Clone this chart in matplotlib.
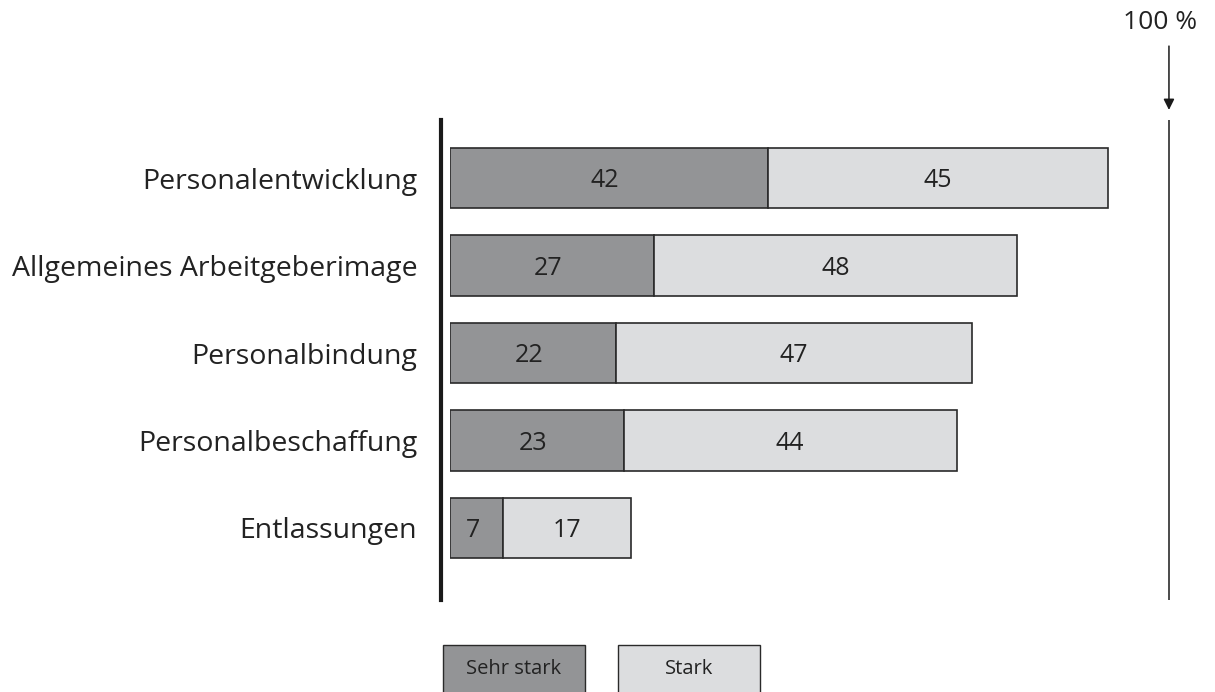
import matplotlib.pyplot as plt
from matplotlib.patches import Rectangle
import matplotlib.transforms as mtransforms

categories = ['Personalentwicklung', 'Allgemeines Arbeitgeberimage',
              'Personalbindung', 'Personalbeschaffung', 'Entlassungen']
sehr_stark = [42, 27, 22, 23, 7]
stark = [45, 48, 47, 44, 17]
# the 100 % marker sits where the picture draws it, not at 100
hundred_pos = 95.1

dark = '#939496'
light = '#dcdddf'
edge = '#2a2a2a'

plt.rcParams['font.family'] = ['Open Sans', 'DejaVu Sans']

W, H = 1215, 692
fig = plt.figure(figsize=(W / 100, H / 100), dpi=100)
# axes in pixels: x 450..1206 (0..100), y 120..600
ax = fig.add_axes([450 / W, (H - 600) / H, 756 / W, 480 / H])

ypos = range(len(categories))
ax.barh(ypos, sehr_stark, height=0.686, color=dark, edgecolor=edge, linewidth=1.2)
ax.barh(ypos, stark, left=sehr_stark, height=0.686, color=light,
        edgecolor=edge, linewidth=1.2)

for i in ypos:
    ax.text(sehr_stark[i] / 2 - 0.5, i + 0.03, str(sehr_stark[i]), ha='center',
            va='center', fontsize=18, color='#222222')
    ax.text(sehr_stark[i] + stark[i] / 2, i + 0.03, str(stark[i]), ha='center',
            va='center', fontsize=18, color='#222222')

ax.set_xlim(0, 100)
ax.set_ylim(4.823, -0.663)
ax.set_yticks(list(ypos))
ax.set_yticklabels(categories)
ax.tick_params(axis='y', length=0, pad=17, labelsize=20.5, labelcolor='#222222')
ax.set_xticks([])
for s in ['top', 'right', 'bottom']:
    ax.spines[s].set_visible(False)
ax.spines['left'].set_position(('outward', 6.5))
ax.spines['left'].set_linewidth(3)
ax.spines['left'].set_color('#1a1a1a')

# 100 % line with arrow
ax.axvline(hundred_pos, color='#1a1a1a', linewidth=1.1)
tr = mtransforms.blended_transform_factory(ax.transData, ax.transAxes)
ax.annotate('', xy=(hundred_pos, 1.021), xytext=(hundred_pos, 1.154),
            xycoords=tr, textcoords=tr,
            arrowprops=dict(arrowstyle='-|>', color='#1a1a1a', lw=1.1,
                            mutation_scale=16, shrinkA=0, shrinkB=0))
ax.text(hundred_pos - 1.2, 1.204, '100 %', transform=tr, ha='center', va='center',
        fontsize=19, color='#222222', clip_on=False)

# legend boxes at the bottom
for x0, label, col in [(443, 'Sehr stark', dark), (618, 'Stark', light)]:
    fig.patches.append(Rectangle((x0 / W, -0.02), 142 / W, (0.02 + 47 / H),
                                 transform=fig.transFigure, facecolor=col,
                                 edgecolor=edge, linewidth=1.0))
    fig.text((x0 + 71) / W, (H - 669) / H, label, ha='center', va='center',
             fontsize=14.5, color='#222222')

fig.savefig('out.png', dpi=100)
